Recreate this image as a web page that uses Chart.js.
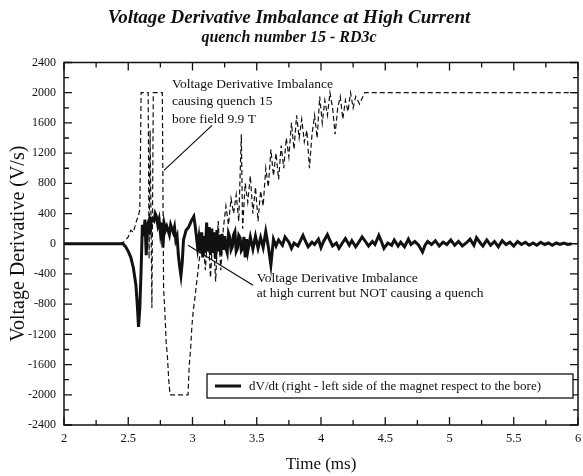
<!DOCTYPE html>
<html lang="en">
<head>
<meta charset="UTF-8">
<title>Voltage Derivative Imbalance at High Current</title>
<script src="https://cdn.jsdelivr.net/npm/chart.js"></script>
<style>
  body { margin: 0; background: #fff; }
  canvas { display: block; }
</style>
</head>
<body>
<canvas id="chart" width="583" height="476"></canvas>
<script>
// dV/dt, right - left side of the magnet (solid trace)
const timeSolid = [2.00, 2.20, 2.40, 2.46, 2.48, 2.50, 2.52, 2.54, 2.56, 2.57, 2.58, 2.59, 2.60, 2.61, 2.62, 2.63, 2.64, 2.65, 2.66, 2.67,
  2.68, 2.70, 2.71, 2.72, 2.73, 2.74, 2.75, 2.76, 2.77, 2.78, 2.79, 2.80, 2.82, 2.83, 2.85, 2.86, 2.87, 2.88, 2.89, 2.90,
  2.91, 2.92, 2.93, 2.95, 2.97, 2.99, 3.01, 3.02, 3.03, 3.04, 3.05, 3.06, 3.07, 3.08, 3.09, 3.10, 3.11, 3.12, 3.13, 3.14,
  3.15, 3.16, 3.17, 3.18, 3.19, 3.20, 3.21, 3.22, 3.23, 3.24, 3.25, 3.26, 3.27, 3.28, 3.29, 3.30, 3.31, 3.32, 3.33, 3.34,
  3.35, 3.36, 3.37, 3.38, 3.39, 3.40, 3.41, 3.42, 3.43, 3.45, 3.47, 3.49, 3.51, 3.53, 3.55, 3.57, 3.59, 3.61, 3.63, 3.65,
  3.67, 3.70, 3.72, 3.75, 3.77, 3.79, 3.82, 3.84, 3.86, 3.88, 3.90, 3.93, 3.95, 3.98, 4.00, 4.02, 4.05, 4.07, 4.09, 4.12,
  4.14, 4.17, 4.19, 4.22, 4.24, 4.27, 4.29, 4.32, 4.35, 4.37, 4.40, 4.42, 4.45, 4.47, 4.49, 4.52, 4.55, 4.57, 4.60, 4.62,
  4.65, 4.68, 4.70, 4.73, 4.76, 4.79, 4.81, 4.83, 4.86, 4.89, 4.92, 4.95, 4.98, 5.01, 5.04, 5.07, 5.10, 5.13, 5.16, 5.19,
  5.21, 5.24, 5.26, 5.29, 5.32, 5.35, 5.38, 5.41, 5.44, 5.47, 5.50, 5.53, 5.56, 5.59, 5.62, 5.65, 5.68, 5.71, 5.74, 5.77,
  5.80, 5.83, 5.86, 5.89, 5.92, 5.95, 6.00];
const voltSolid = [0, 0, 0, 0, -40, -100, -180, -320, -550, -800, -1100, -850, -350, 250, 100, 320, -150, 250, 300, 120,
  330, 300, 400, 360, 250, 320, 150, 280, -50, 260, 180, 230, 120, 250, 150, 220, 50, 100, -150, -300,
  -420, -250, 50, 180, 220, 300, 360, 250, 100, -50, 80, -100, 150, -180, 100, -120, 280, -100, 220, -150,
  200, -120, 150, -200, 180, -100, 120, -150, 130, -80, 100, -60, -120, 140, 90, -80, -40, 120, 160, -100,
  -60, 110, 80, -90, -60, 90, -180, 60, -100, 90, -70, 100, -60, 80, -50, 160, -40, -280, 60, -30,
  50, -20, 90, 20, -60, 10, -30, 40, 110, 30, -40, 20, -10, 60, -50, 30, 120, 40, -30, 10,
  -60, 20, 70, -20, 40, -40, 10, 90, 20, -30, 30, -10, 110, 30, -60, 10, -20, 50, -30, 20,
  -40, 60, -10, 30, -20, -110, -20, 30, -10, 40, -30, 20, -10, 50, -20, 30, -30, 10, 60, -20,
  80, 10, -30, 50, -20, 30, -40, 40, -10, 20, -30, 30, -10, 20, -20, 10, -20, 20, -10, 10,
  -20, 10, -10, 10, -10, 0];

// imbalance causing quench 15 (dashed trace, clipped at +/-2000)
const timeQuench = [2.00, 2.44, 2.47, 2.50, 2.52, 2.54, 2.56, 2.58, 2.59, 2.60, 2.655, 2.662, 2.670, 2.684, 2.695, 2.765, 2.775, 2.785, 2.795, 2.805,
  2.815, 2.825, 2.965, 2.975, 2.985, 2.995, 3.005, 3.02, 3.04, 3.06, 3.08, 3.10, 3.12, 3.14, 3.16, 3.18, 3.20, 3.22, 3.24, 3.26,
  3.28, 3.30, 3.32, 3.34, 3.36, 3.38, 3.39, 3.41, 3.43, 3.45, 3.47, 3.49, 3.51, 3.53, 3.55, 3.57, 3.59, 3.61, 3.63, 3.65,
  3.67, 3.69, 3.71, 3.73, 3.75, 3.77, 3.79, 3.81, 3.83, 3.85, 3.87, 3.89, 3.91, 3.93, 3.95, 3.97, 3.99, 4.01, 4.03, 4.05,
  4.07, 4.09, 4.11, 4.13, 4.15, 4.17, 4.19, 4.21, 4.23, 4.25, 4.27, 4.30, 4.34, 6.00];
const voltQuench = [0, 0, 30, 90, 180, 150, 280, 380, 450, 2000, 2000, -200, 1500, -850, 2000, 2000, -600, -900, -1300, -1500,
  -1800, -2000, -2000, -1600, -1400, -1100, -900, -700, -400, -100, 100, -350, 200, -450, 150, -500, 300, -350, 200, 500,
  250, 600, 400, 650, 300, 1450, 200, 800, 550, 900, 400, 750, 300, 700, 500, 1000, 750, 1250, 900, 1200,
  850, 1300, 1000, 1400, 1150, 1600, 1250, 1700, 1400, 1650, 1350, 1500, 1000, 1450, 1700, 1400, 1950, 1600, 1900, 1700,
  2000, 1800, 1450, 1800, 1950, 1650, 1900, 1750, 2000, 1800, 1950, 1850, 2000, 2000];

const xTickLabels = ['2', '2.5', '3', '3.5', '4', '4.5', '5', '5.5', '6'];
const yTickLabels = ['2400', '2000', '1600', '1200', '800', '400', '0', '-400', '-800', '-1200', '-1600', '-2000', '-2400'];

const titleText = 'Voltage Derivative Imbalance at High Current';
const subtitleText = 'quench number 15 - RD3c';
const legendLabel = 'dV/dt (right - left side of the magnet respect to the bore)';

// callouts: text anchor and pointer in data units (ms, V/s)
const noteQuench = ['Voltage Derivative Imbalance', 'causing quench 15', 'bore field 9.9 T'];
const noteQuenchAt = [2.84, 2110];
const noteQuenchPointer = [[3.152, 1567], [2.778, 972]];
const noteOther = ['Voltage Derivative Imbalance', 'at high current but NOT causing a quench'];
const noteOtherAt = [3.50, -456];
const noteOtherPointer = [[2.965, -20], [3.471, -549]];

const serif = "'Liberation Serif', 'Times New Roman', serif";

function toPoints(xs, ys) {
  return xs.map((x, i) => ({ x: x, y: ys[i] }));
}

// frame, inward ticks, callouts and boxed legend
const overlay = {
  id: 'overlay',
  afterDatasetsDraw(chart) {
    const ctx = chart.ctx;
    const a = chart.chartArea;
    const xs = chart.scales.x;
    const ys = chart.scales.y;
    ctx.save();
    ctx.strokeStyle = '#111';
    ctx.lineWidth = 1.5;
    ctx.strokeRect(a.left, a.top, a.right - a.left, a.bottom - a.top);

    ctx.lineWidth = 1.3;
    ctx.beginPath();
    xs.ticks.forEach(t => {
      const px = xs.getPixelForValue(t.value);
      const len = xTickLabels.includes(String(t.value)) ? 8 : 5;
      ctx.moveTo(px, a.bottom); ctx.lineTo(px, a.bottom - len);
      ctx.moveTo(px, a.top); ctx.lineTo(px, a.top + len);
    });
    ys.ticks.forEach(t => {
      const py = ys.getPixelForValue(t.value);
      const len = yTickLabels.includes(String(t.value)) ? 8 : 5;
      ctx.moveTo(a.left, py); ctx.lineTo(a.left + len, py);
      ctx.moveTo(a.right, py); ctx.lineTo(a.right - len, py);
    });
    ctx.stroke();

    // callouts
    ctx.lineWidth = 1.2;
    [noteQuenchPointer, noteOtherPointer].forEach(p => {
      ctx.beginPath();
      ctx.moveTo(xs.getPixelForValue(p[0][0]), ys.getPixelForValue(p[0][1]));
      ctx.lineTo(xs.getPixelForValue(p[1][0]), ys.getPixelForValue(p[1][1]));
      ctx.stroke();
    });
    ctx.fillStyle = '#111';
    ctx.font = '13.5px ' + serif;
    ctx.textBaseline = 'middle';
    ctx.textAlign = 'left';
    noteQuench.forEach((s, i) => {
      ctx.fillText(s, xs.getPixelForValue(noteQuenchAt[0]), ys.getPixelForValue(noteQuenchAt[1]) + i * 17.5);
    });
    noteOther.forEach((s, i) => {
      ctx.fillText(s, xs.getPixelForValue(noteOtherAt[0]), ys.getPixelForValue(noteOtherAt[1]) + i * 15.5);
    });

    // legend box
    const bx = a.left + 143, by = a.bottom - 51, bw = a.right - 5 - bx, bh = 24;
    ctx.fillStyle = '#fff';
    ctx.fillRect(bx, by, bw, bh);
    ctx.lineWidth = 1.3;
    ctx.strokeRect(bx, by, bw, bh);
    ctx.lineWidth = 3;
    ctx.beginPath();
    ctx.moveTo(bx + 8, by + bh / 2);
    ctx.lineTo(bx + 34, by + bh / 2);
    ctx.stroke();
    ctx.fillStyle = '#111';
    ctx.font = '13px ' + serif;
    ctx.fillText(chart.data.datasets[0].label, bx + 42, by + bh / 2 + 0.5);
    ctx.restore();
  }
};

new Chart(document.getElementById('chart'), {
  type: 'line',
  data: {
    datasets: [
      {
        label: legendLabel,
        data: toPoints(timeSolid, voltSolid),
        borderColor: '#111',
        borderWidth: 3,
        pointRadius: 0,
        tension: 0
      },
      {
        label: 'quench 15',
        data: toPoints(timeQuench, voltQuench),
        borderColor: '#111',
        borderWidth: 1.2,
        borderDash: [5, 3],
        pointRadius: 0,
        tension: 0
      }
    ]
  },
  options: {
    responsive: false,
    animation: false,
    layout: { padding: { left: 0, right: 5, top: 0, bottom: 0 } },
    plugins: {
      legend: { display: false },
      tooltip: { enabled: false },
      title: {
        display: true,
        text: titleText,
        color: '#111',
        font: { family: serif, size: 19, style: 'italic', weight: 'bold', lineHeight: 1.1 },
        padding: { top: 8, bottom: 0 }
      },
      subtitle: {
        display: true,
        text: subtitleText,
        color: '#111',
        font: { family: serif, size: 16, style: 'italic', weight: 'bold', lineHeight: 1.1 },
        padding: { top: 0, bottom: 16 }
      }
    },
    scales: {
      x: {
        type: 'linear',
        min: 2,
        max: 6,
        grid: { display: false, drawTicks: false },
        border: { display: false },
        afterFit: s => { s.height = 51; s.paddingLeft = 0; s.paddingRight = 0; },
        ticks: {
          stepSize: 0.25,
          autoSkip: false,
          maxRotation: 0,
          padding: 6,
          color: '#111',
          font: { family: serif, size: 12.5 },
          callback: v => xTickLabels.includes(String(v)) ? String(v) : ''
        },
        title: {
          display: true,
          text: 'Time (ms)',
          color: '#111',
          font: { family: serif, size: 17 },
          padding: { top: 0, bottom: 1 }
        }
      },
      y: {
        min: -2400,
        max: 2400,
        grid: { display: false, drawTicks: false },
        border: { display: false },
        afterFit: s => { s.width = 64; },
        ticks: {
          stepSize: 200,
          autoSkip: false,
          padding: 8,
          color: '#111',
          font: { family: serif, size: 12 },
          callback: v => yTickLabels.includes(String(v)) ? String(v) : ''
        },
        title: {
          display: true,
          text: 'Voltage Derivative (V/s)',
          color: '#111',
          font: { family: serif, size: 20 },
          padding: { top: 7, bottom: 0 }
        }
      }
    }
  },
  plugins: [overlay]
});
</script>
</body>
</html>
